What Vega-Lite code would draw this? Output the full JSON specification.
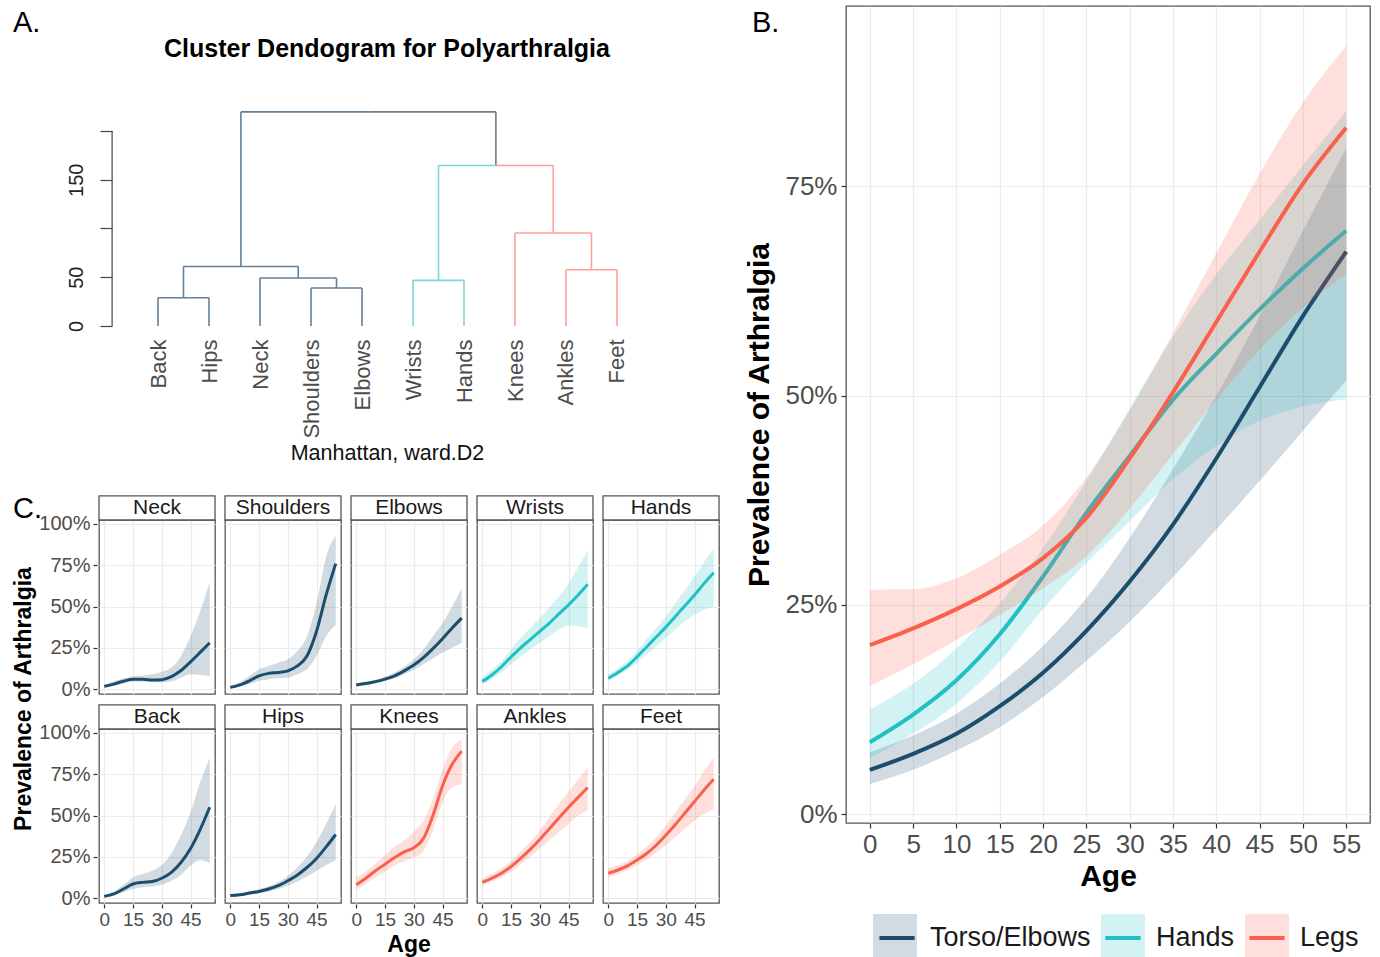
{
"$schema": "https://vega.github.io/schema/vega-lite/v6.json",
"background": "white",
"padding": {"left": 12, "top": 5, "right": 0, "bottom": 0},
"config": {
  "font": "Liberation Sans",
  "view": {"stroke": "#555555", "strokeWidth": 1.3},
  "axis": {"gridColor": "#ebebeb", "gridWidth": 1.2, "tickColor": "#333333", "tickWidth": 1.2, "domain": false, "labelColor": "#4d4d4d", "titleColor": "#000000"},
  "title": {"color": "#000000", "fontWeight": "normal"},
  "header": {"titleColor": "#000000"}
},
"resolve": {"scale": {"fill": "independent", "stroke": "independent"}},
"datasets": {
  "dendro": [
    {"x":1,"x2":1,"y":0,"y2":28.9,"g":"Torso"},
    {"x":2,"x2":2,"y":0,"y2":28.9,"g":"Torso"},
    {"x":1,"x2":2,"y":28.9,"y2":28.9,"g":"Torso"},
    {"x":4,"x2":4,"y":0,"y2":39,"g":"Torso"},
    {"x":5,"x2":5,"y":0,"y2":39,"g":"Torso"},
    {"x":4,"x2":5,"y":39,"y2":39,"g":"Torso"},
    {"x":3,"x2":3,"y":0,"y2":49.2,"g":"Torso"},
    {"x":4.5,"x2":4.5,"y":39,"y2":49.2,"g":"Torso"},
    {"x":3,"x2":4.5,"y":49.2,"y2":49.2,"g":"Torso"},
    {"x":1.5,"x2":1.5,"y":28.9,"y2":61.1,"g":"Torso"},
    {"x":3.75,"x2":3.75,"y":49.2,"y2":61.1,"g":"Torso"},
    {"x":1.5,"x2":3.75,"y":61.1,"y2":61.1,"g":"Torso"},
    {"x":2.625,"x2":2.625,"y":61.1,"y2":219.6,"g":"Torso"},
    {"x":2.625,"x2":5.125,"y":219.6,"y2":219.6,"g":"Torso"},
    {"x":5.125,"x2":7.625,"y":219.6,"y2":219.6,"g":"Root"},
    {"x":7.625,"x2":7.625,"y":164.6,"y2":219.6,"g":"Root"},
    {"x":6,"x2":6,"y":0,"y2":46.8,"g":"Hands"},
    {"x":7,"x2":7,"y":0,"y2":46.8,"g":"Hands"},
    {"x":6,"x2":7,"y":46.8,"y2":46.8,"g":"Hands"},
    {"x":6.5,"x2":6.5,"y":46.8,"y2":164.6,"g":"Hands"},
    {"x":6.5,"x2":7.625,"y":164.6,"y2":164.6,"g":"Hands"},
    {"x":9,"x2":9,"y":0,"y2":57.7,"g":"Legs"},
    {"x":10,"x2":10,"y":0,"y2":57.7,"g":"Legs"},
    {"x":9,"x2":10,"y":57.7,"y2":57.7,"g":"Legs"},
    {"x":8,"x2":8,"y":0,"y2":95.4,"g":"Legs"},
    {"x":9.5,"x2":9.5,"y":57.7,"y2":95.4,"g":"Legs"},
    {"x":8,"x2":9.5,"y":95.4,"y2":95.4,"g":"Legs"},
    {"x":8.75,"x2":8.75,"y":95.4,"y2":164.6,"g":"Legs"},
    {"x":7.625,"x2":8.75,"y":164.6,"y2":164.6,"g":"Legs"}
  ],
  "b": [
    {"grp":"Torso/Elbows","age":0,"est":0.053,"lo":0.036,"hi":0.074},
    {"grp":"Torso/Elbows","age":5,"est":0.072,"lo":0.053,"hi":0.094},
    {"grp":"Torso/Elbows","age":10,"est":0.096,"lo":0.076,"hi":0.120},
    {"grp":"Torso/Elbows","age":15,"est":0.129,"lo":0.104,"hi":0.156},
    {"grp":"Torso/Elbows","age":20,"est":0.169,"lo":0.140,"hi":0.201},
    {"grp":"Torso/Elbows","age":25,"est":0.219,"lo":0.183,"hi":0.258},
    {"grp":"Torso/Elbows","age":30,"est":0.278,"lo":0.230,"hi":0.330},
    {"grp":"Torso/Elbows","age":35,"est":0.346,"lo":0.283,"hi":0.412},
    {"grp":"Torso/Elbows","age":40,"est":0.425,"lo":0.340,"hi":0.500},
    {"grp":"Torso/Elbows","age":45,"est":0.510,"lo":0.398,"hi":0.595},
    {"grp":"Torso/Elbows","age":50,"est":0.595,"lo":0.458,"hi":0.697},
    {"grp":"Torso/Elbows","age":55,"est":0.672,"lo":0.518,"hi":0.796},
    {"grp":"Hands","age":0,"est":0.086,"lo":0.067,"hi":0.125},
    {"grp":"Hands","age":5,"est":0.119,"lo":0.096,"hi":0.156},
    {"grp":"Hands","age":10,"est":0.160,"lo":0.132,"hi":0.198},
    {"grp":"Hands","age":15,"est":0.215,"lo":0.182,"hi":0.252},
    {"grp":"Hands","age":20,"est":0.284,"lo":0.245,"hi":0.318},
    {"grp":"Hands","age":25,"est":0.360,"lo":0.300,"hi":0.398},
    {"grp":"Hands","age":30,"est":0.428,"lo":0.350,"hi":0.485},
    {"grp":"Hands","age":35,"est":0.495,"lo":0.400,"hi":0.570},
    {"grp":"Hands","age":40,"est":0.550,"lo":0.440,"hi":0.645},
    {"grp":"Hands","age":45,"est":0.603,"lo":0.470,"hi":0.710},
    {"grp":"Hands","age":50,"est":0.652,"lo":0.487,"hi":0.775},
    {"grp":"Hands","age":55,"est":0.697,"lo":0.496,"hi":0.840},
    {"grp":"Legs","age":0,"est":0.202,"lo":0.153,"hi":0.268},
    {"grp":"Legs","age":5,"est":0.222,"lo":0.179,"hi":0.269},
    {"grp":"Legs","age":10,"est":0.245,"lo":0.208,"hi":0.282},
    {"grp":"Legs","age":15,"est":0.272,"lo":0.238,"hi":0.310},
    {"grp":"Legs","age":20,"est":0.306,"lo":0.270,"hi":0.345},
    {"grp":"Legs","age":25,"est":0.354,"lo":0.308,"hi":0.402},
    {"grp":"Legs","age":30,"est":0.425,"lo":0.365,"hi":0.482},
    {"grp":"Legs","age":35,"est":0.504,"lo":0.430,"hi":0.575},
    {"grp":"Legs","age":40,"est":0.588,"lo":0.495,"hi":0.670},
    {"grp":"Legs","age":45,"est":0.672,"lo":0.555,"hi":0.765},
    {"grp":"Legs","age":50,"est":0.753,"lo":0.605,"hi":0.850},
    {"grp":"Legs","age":55,"est":0.820,"lo":0.645,"hi":0.918}
  ],
  "c": [
    {"joint":"Neck","grp":"Torso/Elbows","age":0,"est":0.016,"lo":0.008,"hi":0.028},
    {"joint":"Neck","grp":"Torso/Elbows","age":5,"est":0.030,"lo":0.020,"hi":0.045},
    {"joint":"Neck","grp":"Torso/Elbows","age":10,"est":0.047,"lo":0.035,"hi":0.065},
    {"joint":"Neck","grp":"Torso/Elbows","age":15,"est":0.059,"lo":0.045,"hi":0.078},
    {"joint":"Neck","grp":"Torso/Elbows","age":20,"est":0.059,"lo":0.045,"hi":0.082},
    {"joint":"Neck","grp":"Torso/Elbows","age":25,"est":0.055,"lo":0.043,"hi":0.090},
    {"joint":"Neck","grp":"Torso/Elbows","age":30,"est":0.057,"lo":0.040,"hi":0.105},
    {"joint":"Neck","grp":"Torso/Elbows","age":35,"est":0.075,"lo":0.045,"hi":0.130},
    {"joint":"Neck","grp":"Torso/Elbows","age":40,"est":0.112,"lo":0.068,"hi":0.200},
    {"joint":"Neck","grp":"Torso/Elbows","age":45,"est":0.165,"lo":0.090,"hi":0.320},
    {"joint":"Neck","grp":"Torso/Elbows","age":50,"est":0.222,"lo":0.085,"hi":0.470},
    {"joint":"Neck","grp":"Torso/Elbows","age":55,"est":0.280,"lo":0.080,"hi":0.650},
    {"joint":"Shoulders","grp":"Torso/Elbows","age":0,"est":0.010,"lo":0.003,"hi":0.020},
    {"joint":"Shoulders","grp":"Torso/Elbows","age":5,"est":0.025,"lo":0.015,"hi":0.040},
    {"joint":"Shoulders","grp":"Torso/Elbows","age":10,"est":0.050,"lo":0.030,"hi":0.080},
    {"joint":"Shoulders","grp":"Torso/Elbows","age":15,"est":0.080,"lo":0.050,"hi":0.120},
    {"joint":"Shoulders","grp":"Torso/Elbows","age":20,"est":0.095,"lo":0.060,"hi":0.140},
    {"joint":"Shoulders","grp":"Torso/Elbows","age":25,"est":0.100,"lo":0.065,"hi":0.160},
    {"joint":"Shoulders","grp":"Torso/Elbows","age":30,"est":0.110,"lo":0.070,"hi":0.180},
    {"joint":"Shoulders","grp":"Torso/Elbows","age":35,"est":0.140,"lo":0.090,"hi":0.230},
    {"joint":"Shoulders","grp":"Torso/Elbows","age":40,"est":0.200,"lo":0.120,"hi":0.320},
    {"joint":"Shoulders","grp":"Torso/Elbows","age":45,"est":0.350,"lo":0.200,"hi":0.520},
    {"joint":"Shoulders","grp":"Torso/Elbows","age":50,"est":0.570,"lo":0.320,"hi":0.800},
    {"joint":"Shoulders","grp":"Torso/Elbows","age":55,"est":0.760,"lo":0.390,"hi":0.930},
    {"joint":"Elbows","grp":"Torso/Elbows","age":0,"est":0.025,"lo":0.018,"hi":0.035},
    {"joint":"Elbows","grp":"Torso/Elbows","age":5,"est":0.033,"lo":0.025,"hi":0.043},
    {"joint":"Elbows","grp":"Torso/Elbows","age":10,"est":0.045,"lo":0.035,"hi":0.057},
    {"joint":"Elbows","grp":"Torso/Elbows","age":15,"est":0.060,"lo":0.048,"hi":0.075},
    {"joint":"Elbows","grp":"Torso/Elbows","age":20,"est":0.080,"lo":0.065,"hi":0.100},
    {"joint":"Elbows","grp":"Torso/Elbows","age":25,"est":0.110,"lo":0.090,"hi":0.135},
    {"joint":"Elbows","grp":"Torso/Elbows","age":30,"est":0.145,"lo":0.115,"hi":0.180},
    {"joint":"Elbows","grp":"Torso/Elbows","age":35,"est":0.190,"lo":0.150,"hi":0.240},
    {"joint":"Elbows","grp":"Torso/Elbows","age":40,"est":0.245,"lo":0.185,"hi":0.320},
    {"joint":"Elbows","grp":"Torso/Elbows","age":45,"est":0.305,"lo":0.220,"hi":0.400},
    {"joint":"Elbows","grp":"Torso/Elbows","age":50,"est":0.370,"lo":0.250,"hi":0.500},
    {"joint":"Elbows","grp":"Torso/Elbows","age":55,"est":0.430,"lo":0.280,"hi":0.610},
    {"joint":"Wrists","grp":"Hands","age":0,"est":0.045,"lo":0.030,"hi":0.070},
    {"joint":"Wrists","grp":"Hands","age":5,"est":0.085,"lo":0.060,"hi":0.115},
    {"joint":"Wrists","grp":"Hands","age":10,"est":0.135,"lo":0.100,"hi":0.170},
    {"joint":"Wrists","grp":"Hands","age":15,"est":0.195,"lo":0.150,"hi":0.240},
    {"joint":"Wrists","grp":"Hands","age":20,"est":0.250,"lo":0.195,"hi":0.310},
    {"joint":"Wrists","grp":"Hands","age":25,"est":0.300,"lo":0.240,"hi":0.370},
    {"joint":"Wrists","grp":"Hands","age":30,"est":0.350,"lo":0.280,"hi":0.430},
    {"joint":"Wrists","grp":"Hands","age":35,"est":0.400,"lo":0.320,"hi":0.495},
    {"joint":"Wrists","grp":"Hands","age":40,"est":0.455,"lo":0.360,"hi":0.560},
    {"joint":"Wrists","grp":"Hands","age":45,"est":0.510,"lo":0.385,"hi":0.640},
    {"joint":"Wrists","grp":"Hands","age":50,"est":0.570,"lo":0.380,"hi":0.740},
    {"joint":"Wrists","grp":"Hands","age":55,"est":0.635,"lo":0.370,"hi":0.840},
    {"joint":"Hands","grp":"Hands","age":0,"est":0.065,"lo":0.050,"hi":0.090},
    {"joint":"Hands","grp":"Hands","age":5,"est":0.100,"lo":0.080,"hi":0.125},
    {"joint":"Hands","grp":"Hands","age":10,"est":0.140,"lo":0.115,"hi":0.170},
    {"joint":"Hands","grp":"Hands","age":15,"est":0.195,"lo":0.160,"hi":0.230},
    {"joint":"Hands","grp":"Hands","age":20,"est":0.255,"lo":0.210,"hi":0.300},
    {"joint":"Hands","grp":"Hands","age":25,"est":0.315,"lo":0.260,"hi":0.370},
    {"joint":"Hands","grp":"Hands","age":30,"est":0.375,"lo":0.310,"hi":0.440},
    {"joint":"Hands","grp":"Hands","age":35,"est":0.440,"lo":0.360,"hi":0.520},
    {"joint":"Hands","grp":"Hands","age":40,"est":0.505,"lo":0.410,"hi":0.600},
    {"joint":"Hands","grp":"Hands","age":45,"est":0.570,"lo":0.450,"hi":0.680},
    {"joint":"Hands","grp":"Hands","age":50,"est":0.640,"lo":0.480,"hi":0.770},
    {"joint":"Hands","grp":"Hands","age":55,"est":0.705,"lo":0.500,"hi":0.850},
    {"joint":"Back","grp":"Torso/Elbows","age":0,"est":0.010,"lo":0.003,"hi":0.020},
    {"joint":"Back","grp":"Torso/Elbows","age":5,"est":0.025,"lo":0.015,"hi":0.040},
    {"joint":"Back","grp":"Torso/Elbows","age":10,"est":0.055,"lo":0.035,"hi":0.080},
    {"joint":"Back","grp":"Torso/Elbows","age":15,"est":0.085,"lo":0.055,"hi":0.125},
    {"joint":"Back","grp":"Torso/Elbows","age":20,"est":0.095,"lo":0.065,"hi":0.145},
    {"joint":"Back","grp":"Torso/Elbows","age":25,"est":0.100,"lo":0.070,"hi":0.165},
    {"joint":"Back","grp":"Torso/Elbows","age":30,"est":0.120,"lo":0.080,"hi":0.200},
    {"joint":"Back","grp":"Torso/Elbows","age":35,"est":0.155,"lo":0.105,"hi":0.270},
    {"joint":"Back","grp":"Torso/Elbows","age":40,"est":0.215,"lo":0.140,"hi":0.380},
    {"joint":"Back","grp":"Torso/Elbows","age":45,"est":0.300,"lo":0.195,"hi":0.520},
    {"joint":"Back","grp":"Torso/Elbows","age":50,"est":0.415,"lo":0.230,"hi":0.700},
    {"joint":"Back","grp":"Torso/Elbows","age":55,"est":0.550,"lo":0.210,"hi":0.850},
    {"joint":"Hips","grp":"Torso/Elbows","age":0,"est":0.015,"lo":0.008,"hi":0.025},
    {"joint":"Hips","grp":"Torso/Elbows","age":5,"est":0.020,"lo":0.013,"hi":0.030},
    {"joint":"Hips","grp":"Torso/Elbows","age":10,"est":0.030,"lo":0.020,"hi":0.040},
    {"joint":"Hips","grp":"Torso/Elbows","age":15,"est":0.040,"lo":0.030,"hi":0.055},
    {"joint":"Hips","grp":"Torso/Elbows","age":20,"est":0.055,"lo":0.040,"hi":0.072},
    {"joint":"Hips","grp":"Torso/Elbows","age":25,"est":0.075,"lo":0.055,"hi":0.095},
    {"joint":"Hips","grp":"Torso/Elbows","age":30,"est":0.105,"lo":0.075,"hi":0.135},
    {"joint":"Hips","grp":"Torso/Elbows","age":35,"est":0.140,"lo":0.100,"hi":0.185},
    {"joint":"Hips","grp":"Torso/Elbows","age":40,"est":0.185,"lo":0.130,"hi":0.250},
    {"joint":"Hips","grp":"Torso/Elbows","age":45,"est":0.240,"lo":0.165,"hi":0.340},
    {"joint":"Hips","grp":"Torso/Elbows","age":50,"est":0.310,"lo":0.200,"hi":0.450},
    {"joint":"Hips","grp":"Torso/Elbows","age":55,"est":0.385,"lo":0.230,"hi":0.570},
    {"joint":"Knees","grp":"Legs","age":0,"est":0.080,"lo":0.050,"hi":0.125},
    {"joint":"Knees","grp":"Legs","age":5,"est":0.120,"lo":0.085,"hi":0.160},
    {"joint":"Knees","grp":"Legs","age":10,"est":0.165,"lo":0.125,"hi":0.210},
    {"joint":"Knees","grp":"Legs","age":15,"est":0.205,"lo":0.160,"hi":0.260},
    {"joint":"Knees","grp":"Legs","age":20,"est":0.245,"lo":0.195,"hi":0.310},
    {"joint":"Knees","grp":"Legs","age":25,"est":0.280,"lo":0.225,"hi":0.350},
    {"joint":"Knees","grp":"Legs","age":30,"est":0.305,"lo":0.245,"hi":0.400},
    {"joint":"Knees","grp":"Legs","age":35,"est":0.360,"lo":0.285,"hi":0.470},
    {"joint":"Knees","grp":"Legs","age":40,"est":0.500,"lo":0.410,"hi":0.600},
    {"joint":"Knees","grp":"Legs","age":45,"est":0.680,"lo":0.580,"hi":0.780},
    {"joint":"Knees","grp":"Legs","age":50,"est":0.810,"lo":0.670,"hi":0.910},
    {"joint":"Knees","grp":"Legs","age":55,"est":0.890,"lo":0.690,"hi":0.960},
    {"joint":"Ankles","grp":"Legs","age":0,"est":0.095,"lo":0.075,"hi":0.120},
    {"joint":"Ankles","grp":"Legs","age":5,"est":0.120,"lo":0.100,"hi":0.145},
    {"joint":"Ankles","grp":"Legs","age":10,"est":0.150,"lo":0.125,"hi":0.180},
    {"joint":"Ankles","grp":"Legs","age":15,"est":0.190,"lo":0.160,"hi":0.225},
    {"joint":"Ankles","grp":"Legs","age":20,"est":0.240,"lo":0.205,"hi":0.280},
    {"joint":"Ankles","grp":"Legs","age":25,"est":0.295,"lo":0.250,"hi":0.340},
    {"joint":"Ankles","grp":"Legs","age":30,"est":0.355,"lo":0.300,"hi":0.410},
    {"joint":"Ankles","grp":"Legs","age":35,"est":0.420,"lo":0.350,"hi":0.490},
    {"joint":"Ankles","grp":"Legs","age":40,"est":0.485,"lo":0.400,"hi":0.570},
    {"joint":"Ankles","grp":"Legs","age":45,"est":0.550,"lo":0.450,"hi":0.645},
    {"joint":"Ankles","grp":"Legs","age":50,"est":0.610,"lo":0.500,"hi":0.720},
    {"joint":"Ankles","grp":"Legs","age":55,"est":0.670,"lo":0.530,"hi":0.790},
    {"joint":"Feet","grp":"Legs","age":0,"est":0.150,"lo":0.125,"hi":0.180},
    {"joint":"Feet","grp":"Legs","age":5,"est":0.170,"lo":0.145,"hi":0.200},
    {"joint":"Feet","grp":"Legs","age":10,"est":0.195,"lo":0.170,"hi":0.225},
    {"joint":"Feet","grp":"Legs","age":15,"est":0.230,"lo":0.200,"hi":0.265},
    {"joint":"Feet","grp":"Legs","age":20,"est":0.270,"lo":0.235,"hi":0.310},
    {"joint":"Feet","grp":"Legs","age":25,"est":0.320,"lo":0.275,"hi":0.370},
    {"joint":"Feet","grp":"Legs","age":30,"est":0.380,"lo":0.320,"hi":0.440},
    {"joint":"Feet","grp":"Legs","age":35,"est":0.445,"lo":0.370,"hi":0.520},
    {"joint":"Feet","grp":"Legs","age":40,"est":0.515,"lo":0.420,"hi":0.600},
    {"joint":"Feet","grp":"Legs","age":45,"est":0.585,"lo":0.470,"hi":0.680},
    {"joint":"Feet","grp":"Legs","age":50,"est":0.655,"lo":0.510,"hi":0.770},
    {"joint":"Feet","grp":"Legs","age":55,"est":0.720,"lo":0.540,"hi":0.850}
  ]
},
"spacing": 23,
"hconcat": [
  {
    "title": {"text": "A.", "anchor": "start", "fontSize": 29, "offset": -32},
    "spacing": 30,
    "vconcat": [
      {
        "width": 564,
        "height": 329,
        "view": {"stroke": null},
        "title": {"text": "Cluster Dendogram for Polyarthralgia", "fontSize": 25, "fontWeight": "bold", "anchor": "middle", "frame": "group", "dx": 6, "offset": -56},
        "data": {"name": "dendro"},
        "layer": [
          {
            "mark": {"type": "rule", "strokeWidth": 1.6},
            "encoding": {
              "x": {"field": "x", "type": "quantitative", "scale": {"domain": [-0.157, 10.902], "nice": false, "zero": false},
                "axis": {"values": [1,2,3,4,5,6,7,8,9,10],
                  "labelExpr": "['','Back','Hips','Neck','Shoulders','Elbows','Wrists','Hands','Knees','Ankles','Feet'][datum.value]",
                  "labelAngle": 270, "labelFontSize": 22, "labelPadding": 4, "labelOverlap": false, "labelFlush": false, "labelBound": false,
                  "ticks": false, "grid": false, "domain": false,
                  "title": "Manhattan, ward.D2", "titleFontSize": 21.5, "titleFontWeight": "normal", "titlePadding": 4, "titleColor": "#111111", "titleX": 288,
                  "encode": {"labels": {"update": {"fill": {"signal": "datum.value <= 5 ? '#2f5c83' : datum.value <= 7 ? '#3cc6c9' : '#f4615b'"}}}}}},
              "x2": {"field": "x2"},
              "y": {"field": "y", "type": "quantitative", "scale": {"domain": [-9.23, 328.2], "nice": false, "zero": false},
                "axis": {"values": [0,50,100,150,200], "labelExpr": "datum.value == 100 || datum.value == 200 ? '' : datum.label",
                  "labelAngle": 270, "labelFontSize": 20, "labelColor": "#222222", "tickSize": 12, "tickColor": "#444444",
                  "labelPadding": 14, "grid": false, "domain": false, "title": null, "offset": -13}},
              "y2": {"field": "y2"},
              "color": {"field": "g", "type": "nominal", "scale": {"domain": ["Torso","Root","Hands","Legs"], "range": ["#62809a","#7a7a7a","#7fd6d6","#ff9e9b"]}, "legend": null}
            }
          },
          {
            "data": {"values": [{}]},
            "mark": {"type": "rule", "color": "#444444", "strokeWidth": 1.2},
            "encoding": {"x": {"datum": 0.1}, "y": {"datum": 0}, "y2": {"datum": 200}}
          }
        ]
      },
      {
        "title": {"text": "C.", "anchor": "start", "fontSize": 29, "offset": -29},
        "data": {"name": "c"},
        "transform": [
          {"calculate": "indexof(['Neck','Shoulders','Elbows','Wrists','Hands','Back','Hips','Knees','Ankles','Feet'], datum.joint)", "as": "k"},
          {"calculate": "floor(datum.k / 5)", "as": "prow"},
          {"calculate": "datum.k % 5", "as": "pcol"}
        ],
        "facet": {
          "row": {"field": "prow", "type": "ordinal", "title": "Prevalence of Arthralgia", "header": {"labels": false, "titleFontSize": 23, "titleFontWeight": "bold", "titlePadding": -8}},
          "column": {"field": "pcol", "type": "ordinal", "title": "Age", "header": {"labels": false, "titleOrient": "bottom", "titleFontSize": 23, "titleFontWeight": "bold", "titlePadding": -5}}
        },
        "spacing": {"row": 8, "column": 6},
        "spec": {
          "width": 116,
          "height": 174,
          "encoding": {
            "x": {"field": "age", "type": "quantitative", "scale": {"domain": [-2.75, 57.75], "nice": false, "zero": false},
              "axis": {"values": [0,15,30,45], "title": null, "labelFontSize": 19, "tickSize": 4, "labelPadding": 2, "labelFlush": false}}
          },
          "layer": [
            {
              "mark": {"type": "area", "interpolate": "monotone", "opacity": 0.2},
              "encoding": {
                "y": {"field": "lo", "type": "quantitative", "scale": {"domain": [-0.03, 1.024], "nice": false, "zero": false},
                  "axis": {"values": [0,0.25,0.5,0.75,1], "format": ".0%", "title": null, "labelFontSize": 20, "tickSize": 4, "labelPadding": 3}},
                "y2": {"field": "hi"},
                "fill": {"field": "grp", "type": "nominal", "scale": {"domain": ["Torso/Elbows","Hands","Legs"], "range": ["#1c4d6c","#21c0c3","#f9614d"]}, "legend": null}
              }
            },
            {
              "mark": {"type": "line", "interpolate": "monotone", "strokeWidth": 3},
              "encoding": {
                "y": {"field": "est", "type": "quantitative"},
                "stroke": {"field": "grp", "type": "nominal", "scale": {"domain": ["Torso/Elbows","Hands","Legs"], "range": ["#1c4d6c","#21c0c3","#f9614d"]}, "legend": null}
              }
            },
            {
              "transform": [{"filter": "datum.age == 0"}],
              "mark": {"type": "rect", "fill": "#ffffff", "stroke": "#555555", "strokeWidth": 1.3},
              "encoding": {"x": {"datum": -2.75}, "x2": {"datum": 57.75}, "y": {"datum": 1.024}, "y2": {"datum": 1.17}}
            },
            {
              "transform": [{"filter": "datum.age == 0"}],
              "mark": {"type": "text", "fontSize": 21, "color": "#1a1a1a"},
              "encoding": {"x": {"datum": 27.5}, "y": {"datum": 1.097}, "text": {"field": "joint", "type": "nominal"}}
            }
          ]
        }
      }
    ]
  },
  {
    "width": 524,
    "height": 817,
    "title": {"text": "B.", "anchor": "start", "fontSize": 29, "offset": -32, "dx": 7},
    "data": {"name": "b"},
    "resolve": {"scale": {"fill": "independent"}},
    "encoding": {
      "x": {"field": "age", "type": "quantitative", "scale": {"domain": [-2.75, 57.75], "nice": false, "zero": false},
        "axis": {"values": [0,5,10,15,20,25,30,35,40,45,50,55], "title": "Age", "titleFontSize": 30, "titleFontWeight": "bold", "labelFontSize": 26, "tickSize": 5, "labelPadding": 3, "titlePadding": 4, "labelFlush": false}}
    },
    "layer": [
      {
        "transform": [{"filter": "datum.grp == 'Torso/Elbows'"}],
        "mark": {"type": "area", "interpolate": "monotone", "opacity": 0.2},
        "encoding": {
          "y": {"field": "lo", "type": "quantitative", "scale": {"domain": [-0.0105, 0.9655], "nice": false, "zero": false},
            "axis": {"values": [0,0.25,0.5,0.75], "format": ".0%", "title": "Prevalence of Arthralgia", "titleFontSize": 30, "titleFontWeight": "bold", "labelFontSize": 26, "tickSize": 5, "labelPadding": 4, "titlePadding": 10}},
          "y2": {"field": "hi"},
          "fill": {"field": "grp", "type": "nominal", "scale": {"domain": ["Torso/Elbows"], "range": ["#1c4d6c"]},
            "legend": {"orient": "none", "legendX": 27, "legendY": 908, "title": null, "symbolType": "square", "symbolSize": 1936, "symbolOpacity": 0.2, "symbolStrokeWidth": 0, "labelExpr": "''"}}
        }
      },
      {
        "transform": [{"filter": "datum.grp == 'Hands'"}],
        "mark": {"type": "area", "interpolate": "monotone", "opacity": 0.2},
        "encoding": {
          "y": {"field": "lo", "type": "quantitative"},
          "y2": {"field": "hi"},
          "fill": {"field": "grp", "type": "nominal", "scale": {"domain": ["Hands"], "range": ["#21c0c3"]},
            "legend": {"orient": "none", "legendX": 255, "legendY": 908, "title": null, "symbolType": "square", "symbolSize": 1936, "symbolOpacity": 0.2, "symbolStrokeWidth": 0, "labelExpr": "''"}}
        }
      },
      {
        "transform": [{"filter": "datum.grp != 'Legs'"}],
        "mark": {"type": "line", "interpolate": "monotone", "strokeWidth": 4},
        "encoding": {
          "y": {"field": "est", "type": "quantitative"},
          "stroke": {"field": "grp", "type": "nominal", "sort": ["Torso/Elbows","Hands","Legs"], "scale": {"range": ["#1c4d6c","#21c0c3","#f9614d"]},
            "legend": {"orient": "none", "legendX": 27, "legendY": 908, "direction": "horizontal", "title": null, "symbolType": "M-0.8,0H0.8", "symbolSize": 1936, "symbolStrokeWidth": 4, "labelFontSize": 27, "labelColor": "#1a1a1a", "labelOffset": 9, "columnPadding": 6, "labelLimit": 400}}
        }
      },
      {
        "transform": [{"filter": "datum.grp == 'Legs'"}],
        "mark": {"type": "area", "interpolate": "monotone", "opacity": 0.2},
        "encoding": {
          "y": {"field": "lo", "type": "quantitative"},
          "y2": {"field": "hi"},
          "fill": {"field": "grp", "type": "nominal", "scale": {"domain": ["Legs"], "range": ["#f9614d"]},
            "legend": {"orient": "none", "legendX": 399, "legendY": 908, "title": null, "symbolType": "square", "symbolSize": 1936, "symbolOpacity": 0.2, "symbolStrokeWidth": 0, "labelExpr": "''"}}
        }
      },
      {
        "transform": [{"filter": "datum.grp == 'Legs'"}],
        "mark": {"type": "line", "interpolate": "monotone", "strokeWidth": 4},
        "encoding": {
          "y": {"field": "est", "type": "quantitative"},
          "stroke": {"field": "grp", "type": "nominal", "sort": ["Torso/Elbows","Hands","Legs"]}
        }
      }
    ]
  }
]
}
